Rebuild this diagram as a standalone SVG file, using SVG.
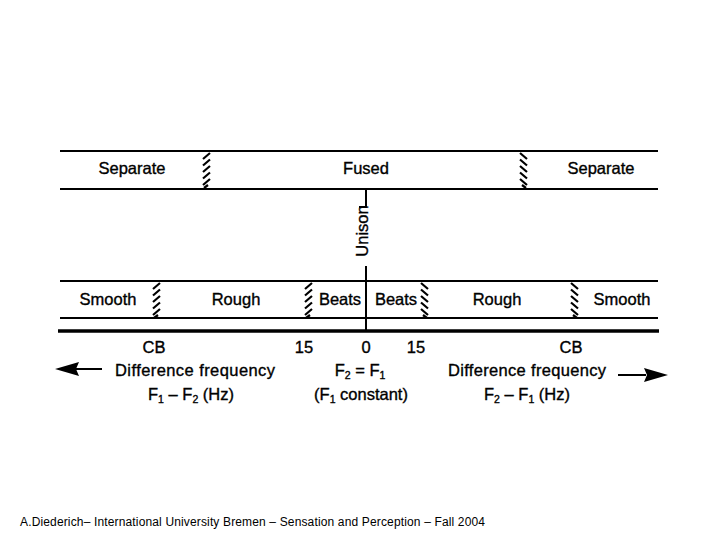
<svg xmlns="http://www.w3.org/2000/svg" xmlns:xlink="http://www.w3.org/1999/xlink" width="720" height="540" viewBox="0 0 720 540">
<style>
.t{font-family:"Liberation Sans",Arial,sans-serif;font-size:16.5px;fill:#000;stroke:#000;stroke-width:0.35;text-anchor:middle}
.ln{stroke:#000;stroke-width:2;fill:none}
.thick{stroke:#000;stroke-width:3.5;fill:none}
.h{stroke:#000;stroke-width:2.2;fill:none;stroke-linecap:butt}
.ft{font-family:"Liberation Sans",Arial,sans-serif;font-size:12px;fill:#000}
</style>
<defs>
<path id="hatch" class="h" d="M2,8 L9,2 M2,14.5 L9,8.5 M2,21 L9,15 M2,27.5 L9,21.5 M2,34 L9,28 M3,37 L7,34"/>
</defs>
<rect width="720" height="540" fill="#fff"/>

<g id="connectors">
<line class="ln" x1="60" y1="151" x2="658" y2="151"/>
<line class="ln" x1="60" y1="189" x2="658" y2="189"/>
<line class="ln" x1="60" y1="281" x2="658" y2="281"/>
<line class="ln" x1="60" y1="318" x2="658" y2="318"/>
<line class="thick" x1="58" y1="331" x2="659" y2="331"/>
<line class="ln" x1="366" y1="189" x2="366" y2="207"/>
<line class="ln" x1="359" y1="207" x2="367" y2="207"/>
<line class="ln" x1="366" y1="266" x2="366" y2="331"/>
<path d="M102,369 L76,369" stroke="#000" stroke-width="2"/>
<path d="M55,369 L79,362 L76,369 L79,376 Z" fill="#000"/>
<path d="M618,375 L646,375" stroke="#000" stroke-width="2"/>
<path d="M668,375 L644,368 L647,375 L644,382 Z" fill="#000"/>
</g>

<g id="hatches">
<use xlink:href="#hatch" x="201" y="151"/>
<use xlink:href="#hatch" transform="translate(529,151) scale(-1,1)"/>
<use xlink:href="#hatch" x="151" y="281"/>
<use xlink:href="#hatch" x="303" y="281"/>
<use xlink:href="#hatch" transform="translate(430,281) scale(-1,1)"/>
<use xlink:href="#hatch" transform="translate(580,281) scale(-1,1)"/>
</g>

<g id="top-band">
<text class="t" x="132" y="174">Separate</text>
<text class="t" x="366" y="174">Fused</text>
<text class="t" x="601" y="174">Separate</text>
</g>

<g id="unison">
<text class="t" transform="translate(368,231) rotate(-90)">Unison</text>
</g>

<g id="lower-band">
<text class="t" x="108" y="305">Smooth</text>
<text class="t" x="236" y="305">Rough</text>
<text class="t" x="340" y="305">Beats</text>
<text class="t" x="396" y="305">Beats</text>
<text class="t" x="497" y="305">Rough</text>
<text class="t" x="622" y="305">Smooth</text>
</g>

<g id="axis-labels">
<text class="t" x="154" y="353">CB</text>
<text class="t" x="304" y="353">15</text>
<text class="t" x="366" y="353">0</text>
<text class="t" x="416" y="353">15</text>
<text class="t" x="571" y="353">CB</text>
<text class="t" x="195" y="376" textLength="160" lengthAdjust="spacing">Difference frequency</text>
<text class="t" x="527" y="376" textLength="158" lengthAdjust="spacing">Difference frequency</text>
<text class="t" x="360" y="376">F<tspan font-size="10.5" dy="3">2</tspan><tspan dy="-3"> = F</tspan><tspan font-size="10.5" dy="3">1</tspan></text>
<text class="t" x="191" y="400">F<tspan font-size="10.5" dy="3">1</tspan><tspan dy="-3"> – F</tspan><tspan font-size="10.5" dy="3">2</tspan><tspan dy="-3"> (Hz)</tspan></text>
<text class="t" x="361" y="400">(F<tspan font-size="10.5" dy="3">1</tspan><tspan dy="-3"> constant)</tspan></text>
<text class="t" x="527" y="400">F<tspan font-size="10.5" dy="3">2</tspan><tspan dy="-3"> – F</tspan><tspan font-size="10.5" dy="3">1</tspan><tspan dy="-3"> (Hz)</tspan></text>
</g>

<g id="footer">
<text class="ft" x="20" y="526" textLength="465" lengthAdjust="spacing">A.Diederich– International University Bremen – Sensation and Perception –  Fall 2004</text>
</g>
</svg>
